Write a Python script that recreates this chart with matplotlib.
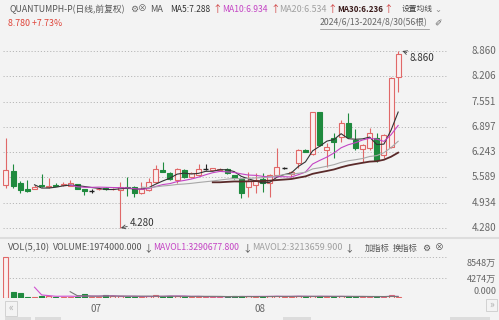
import numpy as np
import pandas as pd
import matplotlib
matplotlib.use("Agg")
import matplotlib.pyplot as plt
from matplotlib.patches import Rectangle
from matplotlib.transforms import blended_transform_factory

plt.rcParams['font.family'] = ['Noto Sans CJK SC', 'DejaVu Sans']
NARROW = ['Liberation Sans Narrow', 'Noto Sans CJK SC', 'DejaVu Sans']

# daily bars 2024/6/13 - 2024/8/30 (56 bars)
opens = [5.39, 5.76, 5.44, 5.28, 5.30, 5.39, 5.34, 5.40, 5.38, 5.37,
         5.42, 5.28, 5.24, 5.28, 5.31, 5.28, 5.27, 5.35, 5.34, 5.19,
         5.26, 5.47, 5.78, 5.70, 5.52, 5.78, 5.60, 5.65, 5.81, 5.79,
         5.77, 5.81, 5.65, 5.55, 5.34, 5.39, 5.55, 5.44, 5.65, 5.83,
         5.68, 5.96, 6.30, 6.20, 7.28, 6.30, 6.61, 6.64, 7.00, 6.56,
         6.33, 6.35, 6.61, 6.17, 6.38, 8.19]
highs = [6.61, 5.94, 5.50, 5.52, 5.38, 5.68, 5.57, 5.44, 5.46, 5.52,
         5.43, 5.30, 5.29, 5.32, 5.33, 5.31, 5.47, 5.60, 5.37, 5.47,
         5.57, 5.91, 5.99, 5.72, 5.83, 5.80, 5.73, 5.94, 5.94, 5.84,
         5.82, 5.82, 5.66, 5.57, 5.73, 5.70, 5.70, 5.68, 6.35, 5.86,
         5.75, 6.32, 6.33, 7.29, 7.29, 6.48, 6.74, 7.08, 7.26, 6.84,
         6.45, 6.87, 6.74, 6.72, 8.19, 8.86]
lows = [5.32, 5.32, 5.19, 5.22, 5.28, 5.34, 5.32, 5.36, 5.37, 5.36,
        5.29, 5.13, 5.18, 5.27, 5.27, 5.27, 4.28, 5.11, 5.08, 5.17,
        5.25, 5.44, 5.72, 5.53, 5.44, 5.58, 5.58, 5.63, 5.78, 5.78,
        5.76, 5.69, 5.55, 5.06, 5.08, 5.19, 5.21, 5.08, 5.63, 5.80,
        5.60, 5.83, 6.24, 6.18, 6.40, 5.86, 6.09, 6.50, 6.60, 6.30,
        5.99, 6.30, 6.00, 6.10, 6.35, 7.80]
closes = [5.78, 5.37, 5.26, 5.24, 5.34, 5.36, 5.37, 5.37, 5.41, 5.44,
          5.30, 5.25, 5.24, 5.30, 5.29, 5.30, 5.34, 5.32, 5.19, 5.29,
          5.47, 5.81, 5.73, 5.55, 5.81, 5.60, 5.70, 5.81, 5.81, 5.82,
          5.80, 5.70, 5.57, 5.19, 5.50, 5.52, 5.45, 5.65, 5.86, 5.83,
          5.72, 6.30, 6.25, 7.28, 6.43, 6.38, 6.51, 7.00, 6.64, 6.35,
          6.43, 6.74, 6.04, 6.69, 8.15, 8.78]
# volume in millions
volumes = [85.48, 12.0, 10.0, 2.5, 2.5, 5.0, 5.0, 3.0, 3.0, 3.0,
           3.0, 9.0, 2.5, 2.5, 5.5, 4.0, 4.5, 2.0, 2.5, 3.0,
           3.5, 6.0, 2.5, 5.0, 4.0, 3.0, 2.5, 3.0, 2.0, 3.0,
           2.5, 3.0, 3.5, 4.0, 3.5, 3.0, 3.0, 3.5, 5.0, 2.5,
           3.0, 4.5, 3.0, 3.5, 3.5, 3.0, 3.1, 3.5, 3.2, 2.9,
           2.99, 2.8, 3.1, 2.58, 6.0, 1.974]

price_ticks = [4.280, 4.934, 5.589, 6.243, 6.897, 7.551, 8.206, 8.860]
price_labels = ['4.280', '4.934', '5.589', '6.243', '6.897', '7.551', '8.206', '8.860']
vol_ticks = [85.48, 42.74]
month_pos = [12, 35]
month_labels = ['07', '08']

BG = '#f3f3f3'
UP = '#e06868'
UPFILL = '#fbf0f0'
DOWN = '#1f8a3e'
GRID = '#b8b8b8'
W, H = 499, 320


def fpos(x, y):
    return x / W, 1 - y / H


fig = plt.figure(figsize=(W / 100, H / 100), dpi=100, facecolor=BG)
renderer = fig.canvas.get_renderer()

# ---- price panel
ax = fig.add_axes([3 / W, 1 - 236 / H, 444 / W, 192 / H])
ax.set_facecolor(BG)
ax.set_xlim(-0.42, 61.85)
ax.set_ylim(4.280 - 8 * 0.025876, 8.860 + 7 * 0.025876)
for s in ax.spines.values():
    s.set_visible(False)
ax.set_xticks([])
ax.set_yticks([])
for t in price_ticks:
    ax.axhline(t, color=GRID, lw=0.7, ls=(0, (1.2, 2.0)), zorder=0)

n = len(closes)
bw = 0.7
for i in range(n):
    o, h, l, c = opens[i], highs[i], lows[i], closes[i]
    if abs(c - o) < 0.005:
        col = '#222222'
        ax.vlines(i, l, h, color=col, lw=0.8, zorder=2)
        ax.hlines(c, i - bw / 2, i + bw / 2, color=col, lw=1.0, zorder=3)
    elif c > o:
        ax.vlines(i, l, h, color=UP, lw=0.8, zorder=2)
        ax.add_patch(Rectangle((i - bw / 2, o), bw, c - o, facecolor=UPFILL,
                               edgecolor=UP, lw=0.8, zorder=3))
    else:
        ax.vlines(i, l, h, color=DOWN, lw=0.8, zorder=2)
        ax.add_patch(Rectangle((i - bw / 2, c), bw, o - c, facecolor=DOWN,
                               edgecolor=DOWN, lw=0.8, zorder=3))

cs = pd.Series(closes)
x = np.arange(n)
ax.plot(x, cs.rolling(5).mean(), color='#333333', lw=0.8, zorder=4)
ax.plot(x, cs.rolling(10).mean(), color='#c444c4', lw=0.8, zorder=4)
ax.plot(x, cs.rolling(20).mean(), color='#a8a8a8', lw=0.8, zorder=4)
ax.plot(x, cs.rolling(30).mean(), color='#5a2a2a', lw=1.3, zorder=4)

ax.annotate('8.860', xy=(55.6, max(highs)), xytext=(56.6, 8.68),
            fontsize=7, color='#333333', va='center', ha='left',
            arrowprops=dict(arrowstyle='->', color='#444444', lw=0.6,
                            shrinkA=0, shrinkB=0))
ax.annotate('4.280', xy=(16.1, min(lows)), xytext=(17.4, 4.41),
            fontsize=7, color='#333333', va='center', ha='left',
            arrowprops=dict(arrowstyle='->', color='#444444', lw=0.6,
                            shrinkA=0, shrinkB=0))

tr = blended_transform_factory(fig.transFigure, ax.transData)
for t, lab in zip(price_ticks, price_labels):
    ax.text(496 / W, t, lab, transform=tr, ha='right', va='center',
            fontsize=7, color='#666666')

# ---- volume panel
vx = fig.add_axes([3 / W, 1 - 298 / H, 444 / W, 43 / H])
vx.set_facecolor(BG)
vx.set_xlim(ax.get_xlim())
vx.set_ylim(0, 85.48 * 43 / 41)
for s in vx.spines.values():
    s.set_visible(False)
vx.set_xticks([])
vx.set_yticks([])
for t in vol_ticks:
    vx.axhline(t, color=GRID, lw=0.7, ls=(0, (1.2, 2.0)), zorder=0)
for i in range(n):
    if closes[i] >= opens[i]:
        vx.add_patch(Rectangle((i - bw / 2, 0), bw, volumes[i], facecolor=UPFILL,
                               edgecolor=UP, lw=0.8, zorder=3))
    else:
        vx.add_patch(Rectangle((i - bw / 2, 0), bw, volumes[i], facecolor=DOWN,
                               edgecolor=DOWN, lw=0.8, zorder=3))
vs = pd.Series(volumes)
vx.plot(x, vs.rolling(5).mean(), color='#d050d0', lw=0.8, zorder=4)
vx.plot(x, vs.rolling(10).mean(), color='#777777', lw=0.8, zorder=4)

for lab, yy in [('8548万', 263), ('4274万', 279), ('0.000', 292)]:
    fig.text(*fpos(496, yy), lab, ha='right', va='center', fontsize=6.5, color='#666666')

fig.add_artist(plt.Line2D([0, 1], [1 - 238 / H, 1 - 238 / H], color='#dddddd', lw=1.5))


# ---- header texts, sized to the span they take in the reference
def put(x0, x1, yp, s, color='#555555', weight='normal'):
    t = fig.text(*fpos(x0, yp), s, ha='left', va='center', fontsize=7,
                 color=color, fontweight=weight, family=NARROW)
    w = t.get_window_extent(renderer).width
    t.set_fontsize(min(8.5, 7 * (x1 - x0) / w))
    return t


def sym(xp, yp, s, color='#555555', size=7):
    fig.text(*fpos(xp, yp), s, ha='center', va='center', fontsize=size, color=color)


y1 = 9
put(9, 125, y1, 'QUANTUMPH-P(日线,前复权)')
sym(134, y1, '⚙', '#666666', 6.5)
sym(142, y1, '⊗', '#666666', 6.5)
put(150, 163, y1, 'MA')
put(170, 210, y1, 'MA5:7.288', '#333333')
sym(217, y1, '↑', '#d04040')
put(222, 268, y1, 'MA10:6.934', '#c444c4')
sym(275, y1, '↑', '#d04040')
put(279, 327, y1, 'MA20:6.534', '#a0a0a0')
sym(332, y1, '↑', '#d04040')
put(337, 383, y1, 'MA30:6.236', '#3a1a1a', weight='bold')
sym(388, y1, '↑', '#d04040')
put(402, 433, y1, '设置均线', '#444444')
sym(438, y1, '⌄', '#888888', 6)

y2 = 23
put(8, 63, y2, '8.780 +7.73%', '#e0453a')
put(320, 429, y2, '2024/6/13-2024/8/30(56根)', '#666666')
fig.add_artist(plt.Line2D([320 / W, 429 / W], [1 - 28.5 / H, 1 - 28.5 / H],
                          color='#888888', lw=0.5))
sym(438, y2, '✐', '#666666', 6.5)

y3 = 248
put(8, 50, y3, 'VOL(5,10)')
put(53, 143, y3, 'VOLUME:1974000.000')
sym(148, y3, '↓')
put(153, 240, y3, 'MAVOL1:3290677.800', '#c444c4')
sym(247, y3, '↓')
put(252, 343, y3, 'MAVOL2:3213659.900', '#a0a0a0')
sym(349, y3, '↓')
put(365, 390, y3, '加指标')
put(393, 418, y3, '换指标')
sym(426, y3, '⚙', '#555555', 6.5)
sym(439, y3, '⊗', '#555555', 6.5)

# ---- bottom strip
for p, lab in zip(month_pos, month_labels):
    fig.text(*fpos(6 + 7.13 * p + 4, 309), lab, ha='center', va='center',
             fontsize=7, color='#666666')
fig.add_artist(Rectangle(fpos(5, 316), 12 / W, 15 / H, transform=fig.transFigure,
                         facecolor='none', edgecolor='#cccccc', lw=0.6))
fig.text(*fpos(11, 308), '«', ha='center', va='center', fontsize=7, color='#aaaaaa')
fig.add_artist(Rectangle(fpos(486, 311), 11 / W, 12 / H, transform=fig.transFigure,
                         facecolor='none', edgecolor='#cccccc', lw=0.6))
fig.text(*fpos(491.5, 305), '»', ha='center', va='center', fontsize=7, color='#aaaaaa')
for x0, w0 in [(5, 26), (35, 26), (283, 28), (450, 40)]:
    fig.add_artist(Rectangle(fpos(x0, 320), w0 / W, 3 / H, transform=fig.transFigure,
                             facecolor='#dcdcdc', edgecolor='none'))

fig.savefig('out.png', dpi=100, facecolor=BG)
